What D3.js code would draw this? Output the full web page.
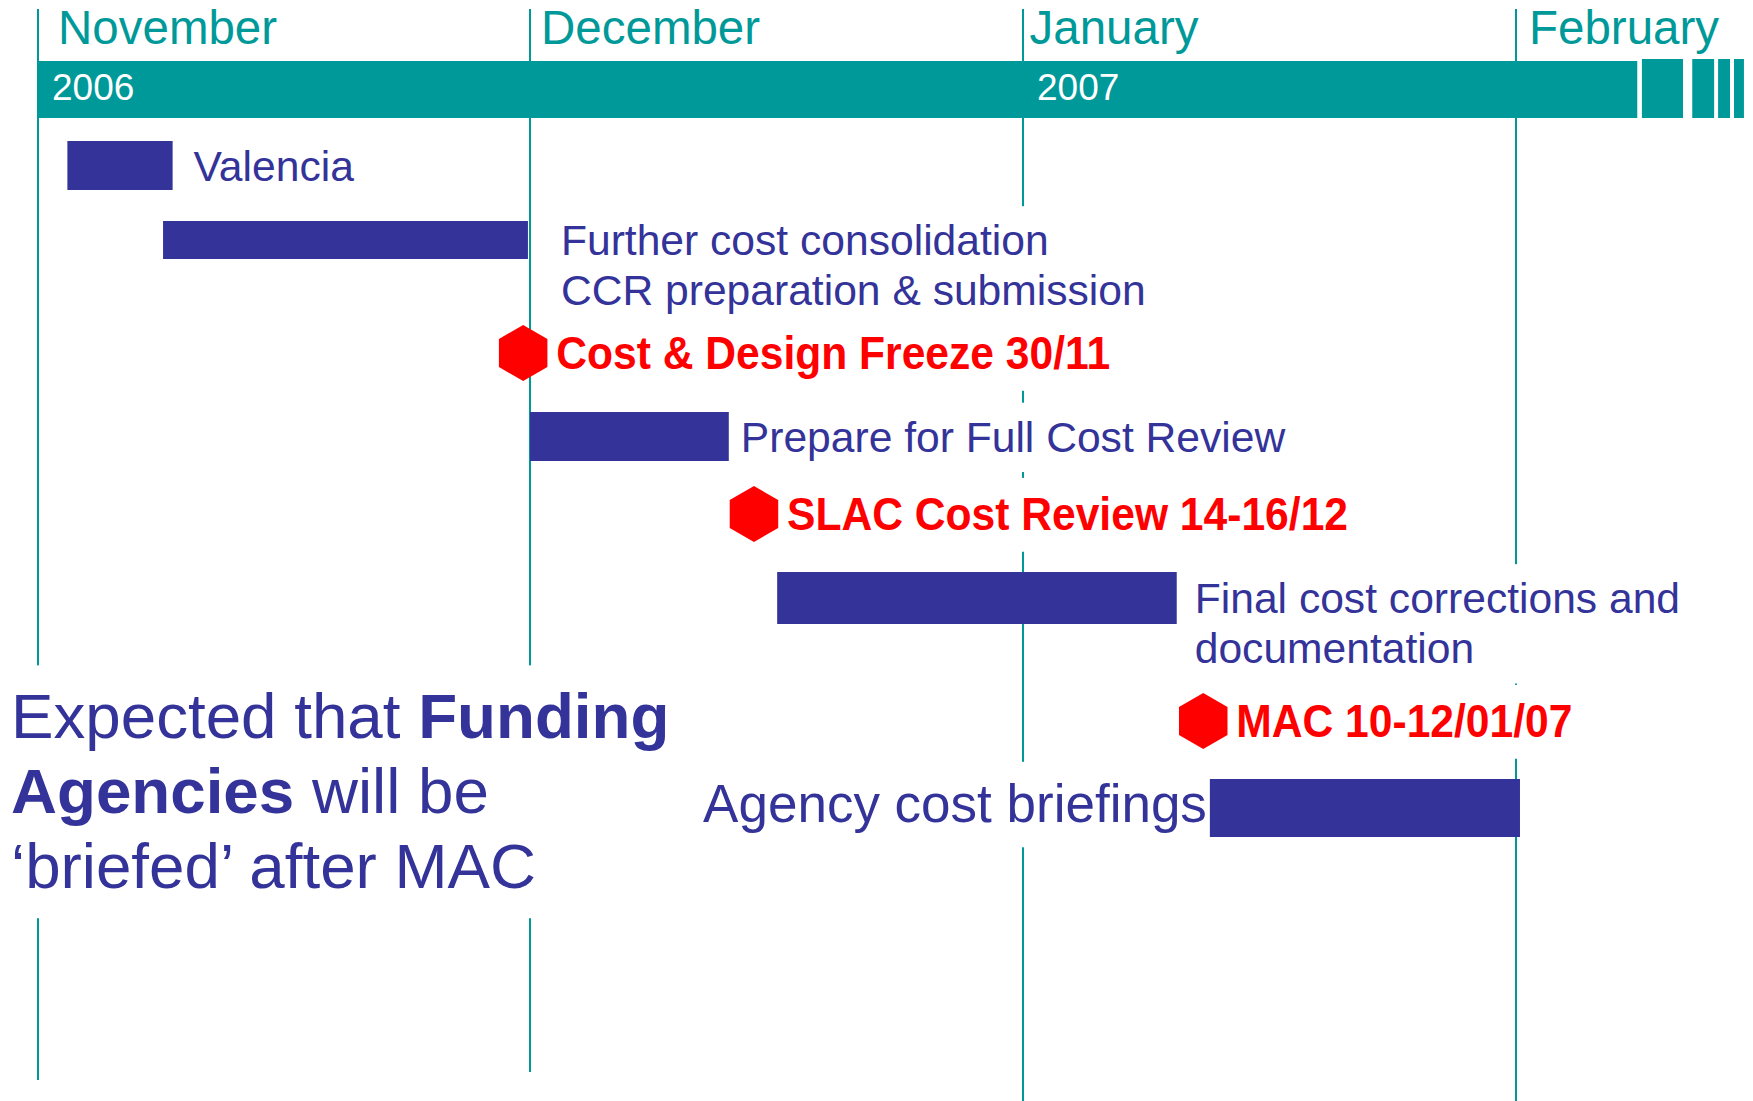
<!DOCTYPE html>
<html>
<head>
<meta charset="utf-8">
<script src="https://cdn.jsdelivr.net/npm/d3@7"></script>
<style>
  html, body { margin: 0; padding: 0; background: #fff; }
  svg { display: block; }
</style>
</head>
<body>
<div id="chart"></div>
<script>
// --- data -------------------------------------------------------------
const months = ["November", "December", "January", "February"];
const monthStarts = ["2006-11-01 00:00", "2006-12-01 00:00", "2007-01-01 00:00", "2007-02-01 00:00"];

const years = ["2006", "2007"];
const yearStarts = ["2006-11-01 00:00", "2007-01-01 00:00"];

// the teal year strip, with the broken pieces at its right end
const stripStarts = ["2006-11-01 00:00", "2007-02-08 22:00", "2007-02-12 02:00", "2007-02-13 17:00", "2007-02-14 17:00"];
const stripEnds   = ["2007-02-08 15:00", "2007-02-11 12:00", "2007-02-13 11:00", "2007-02-14 11:00", "2007-02-15 08:00"];

const tasks = ["Valencia", "Further cost consolidation|CCR preparation & submission",
  "Prepare for Full Cost Review", "Final cost corrections and|documentation", "Agency cost briefings"];
const taskStarts = ["2006-11-02 19:00", "2006-11-08 15:00", "2006-12-01 00:00", "2006-12-16 13:00", "2007-01-12 18:00"];
const taskEnds   = ["2006-11-09 05:00", "2006-11-30 21:00", "2006-12-13 12:00", "2007-01-10 16:00", "2007-02-01 06:00"];

const milestones = ["Cost & Design Freeze 30/11", "SLAC Cost Review 14-16/12", "MAC 10-12/01/07"];
const milestoneDates = ["2006-11-30 14:00", "2006-12-15 02:00", "2007-01-12 08:00"];

const noteLines = [
  [["Expected that ", false], ["Funding", true]],
  [["Agencies", true], [" will be", false]],
  [["\u2018briefed\u2019 after MAC", false]]
];

// --- layout -----------------------------------------------------------
const width = 1753, height = 1101;
const teal = "#009999", navy = "#333399", red = "#ff0000";
const font = "'Liberation Sans', Arial, Helvetica, sans-serif";
const parse = d3.timeParse("%Y-%m-%d %H:%M");

const x = d3.scaleTime()
  .domain(monthStarts.map(parse))
  .range([38, 530, 1023, 1516]);

const rows = ["Valencia", "Further", "Freeze", "Prepare", "SLAC", "Final", "MAC", "Agency"];
const rowY = d3.scaleOrdinal()
  .domain(rows)
  .range([165.5, 240, 353, 436.5, 514, 598, 721, 808]);
const taskRow = ["Valencia", "Further", "Prepare", "Final", "Agency"];
const milestoneRow = ["Freeze", "SLAC", "MAC"];
const barHeight = d3.scaleOrdinal().domain(taskRow).range([49, 38, 49, 52, 58]);
const labelGap = d3.scaleOrdinal().domain(taskRow).range([21, 33, 12, 18, -3]);

const monthLabelOffset = [20, 11, 6.5, 13];
const lineBottom = [1080, 1072, 1101, 1101];

const svg = d3.select("#chart").append("svg")
  .attr("width", width)
  .attr("height", height)
  .style("font-family", font);

svg.append("rect").attr("width", width).attr("height", height).attr("fill", "#fff");

// month grid lines
svg.append("g")
  .selectAll("line")
  .data(monthStarts)
  .join("line")
  .attr("x1", d => x(parse(d)))
  .attr("x2", d => x(parse(d)))
  .attr("y1", 9)
  .attr("y2", (d, i) => lineBottom[i])
  .attr("stroke", teal)
  .attr("stroke-width", 2);

// month names
svg.append("g")
  .selectAll("text")
  .data(months)
  .join("text")
  .attr("x", (d, i) => x(parse(monthStarts[i])) + monthLabelOffset[i])
  .attr("y", 44)
  .attr("fill", teal)
  .style("font-size", "47.5px")
  .text(d => d);

// year strip
svg.append("g")
  .selectAll("rect")
  .data(stripStarts)
  .join("rect")
  .attr("x", d => x(parse(d)))
  .attr("width", (d, i) => x(parse(stripEnds[i])) - x(parse(d)))
  .attr("y", (d, i) => i === 0 ? 61 : 59)
  .attr("height", (d, i) => i === 0 ? 57 : 59)
  .attr("fill", teal);

svg.append("g")
  .selectAll("text")
  .data(years)
  .join("text")
  .attr("x", (d, i) => x(parse(yearStarts[i])) + 14)
  .attr("y", 100)
  .attr("fill", "#fff")
  .style("font-size", "37px")
  .text(d => d);

// a text box with a white fill, the way the slide hides the grid lines
function textBox(layer, px, py, opts) {
  const g = layer.append("g")
    .attr("transform", `translate(${px},${py}) scale(${opts.sx || 1},1)`);
  const t = g.append("text")
    .attr("fill", opts.color)
    .attr("text-anchor", opts.anchor || "start")
    .style("font-size", opts.size + "px")
    .style("font-weight", opts.bold ? "bold" : "normal");
  opts.lines.forEach((ln, i) => {
    const row = t.append("tspan").attr("x", 0).attr("y", i * opts.lineHeight);
    (Array.isArray(ln) ? ln : [[ln, false]]).forEach(([s, b]) => {
      row.append("tspan")
        .style("font-weight", b || opts.bold ? "bold" : "normal")
        .text(s);
    });
  });
  const bb = t.node().getBBox();
  g.insert("rect", "text")
    .attr("x", bb.x - 10)
    .attr("y", bb.y - opts.size * 0.23)
    .attr("width", bb.width + 20)
    .attr("height", bb.height + opts.size * 0.5)
    .attr("fill", "#fff");
}

const labels = svg.append("g");

tasks.forEach((name, i) => {
  const key = taskRow[i];
  const left = key === "Agency";
  const px = left ? x(parse(taskStarts[i])) + labelGap(key) : x(parse(taskEnds[i])) + labelGap(key);
  textBox(labels, px, rowY(key) + (left ? 14 : 15), {
    lines: name.split("|"),
    color: navy,
    size: left ? 53 : 42.6,
    lineHeight: 50,
    anchor: left ? "end" : "start"
  });
});

milestones.forEach((name, i) => {
  textBox(labels, x(parse(milestoneDates[i])) + 33, rowY(milestoneRow[i]) + 16, {
    lines: [name],
    color: red,
    size: 46,
    sx: 0.926,
    bold: true,
    lineHeight: 50
  });
});

textBox(labels, 11, 738, {
  lines: noteLines,
  color: navy,
  size: 63.7,
  lineHeight: 75
});

// task bars
svg.append("g")
  .selectAll("rect")
  .data(tasks)
  .join("rect")
  .attr("x", (d, i) => x(parse(taskStarts[i])))
  .attr("width", (d, i) => x(parse(taskEnds[i])) - x(parse(taskStarts[i])))
  .attr("y", (d, i) => rowY(taskRow[i]) - barHeight(taskRow[i]) / 2)
  .attr("height", (d, i) => barHeight(taskRow[i]))
  .attr("fill", navy);

// milestone hexagons
const r = 28;
const hexPts = d3.range(6).map(k => {
  const a = (-90 + 60 * k) * Math.PI / 180;
  return [r * Math.cos(a), r * Math.sin(a)];
});
const hex = d3.line().curve(d3.curveLinearClosed);

svg.append("g")
  .selectAll("path")
  .data(milestones)
  .join("path")
  .attr("transform", (d, i) => `translate(${x(parse(milestoneDates[i]))},${rowY(milestoneRow[i])})`)
  .attr("d", hex(hexPts))
  .attr("fill", red);
</script>
</body>
</html>
